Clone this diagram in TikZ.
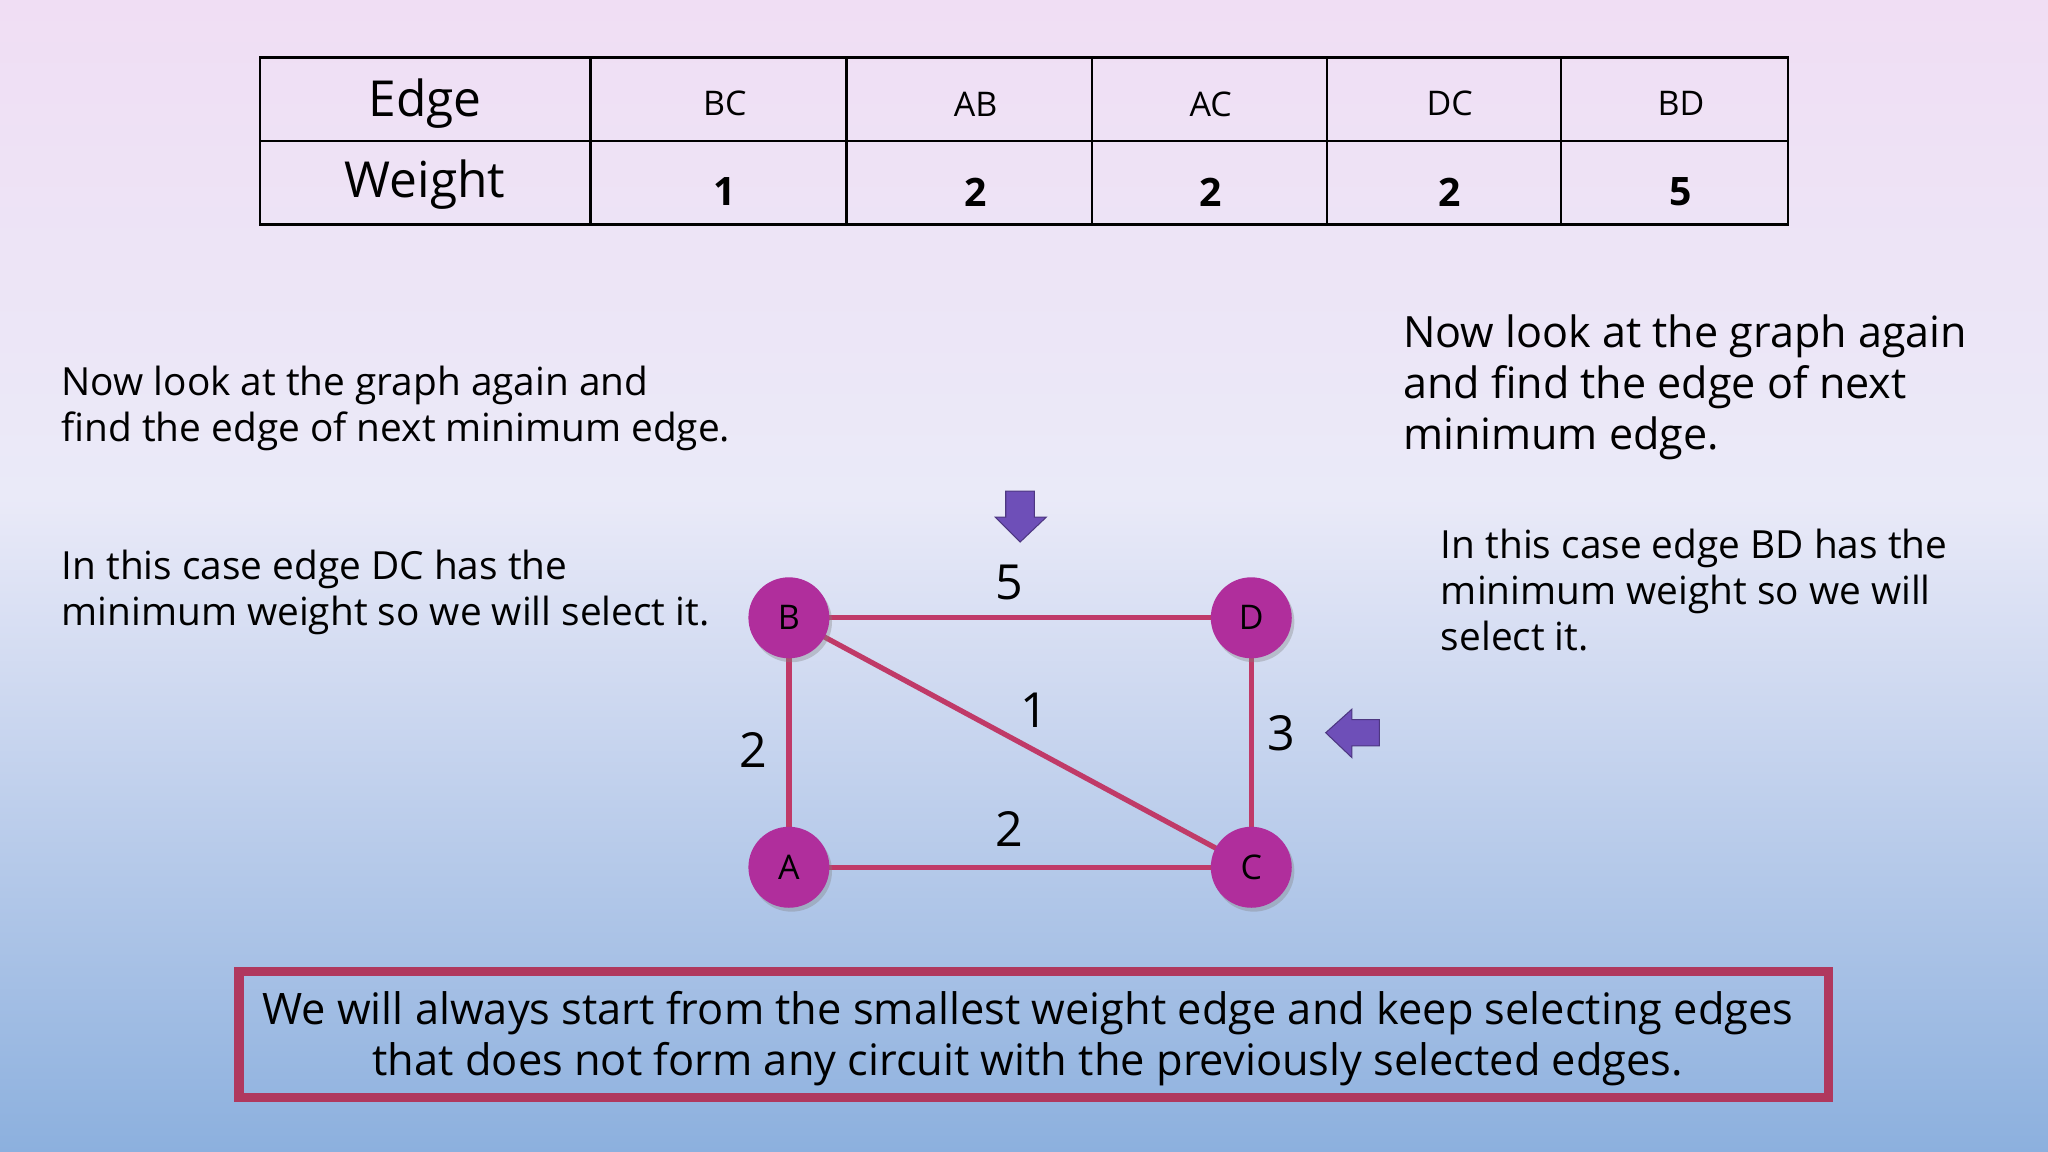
\documentclass[tikz,border=0pt]{standalone}
\usepackage{fontspec}
\setmainfont{Open Sans}
\usetikzlibrary{shadows}
\definecolor{edgec}{HTML}{C03A68}
\definecolor{nodec}{HTML}{B02E9C}
\definecolor{arrc}{HTML}{6E4FB8}
\definecolor{boxc}{HTML}{B0385E}
\definecolor{bgtop}{RGB}{240,222,244}
\definecolor{bgmid}{RGB}{234,234,248}
\definecolor{bgbot}{RGB}{140,176,222}
\tikzset{
 vert/.style={circle,fill=nodec,minimum size=62pt,inner sep=0pt,font=\fontsize{26}{30}\selectfont,drop shadow={opacity=0.35,shadow xshift=2pt,shadow yshift=-3pt}},
 gedge/.style={draw=edgec,line width=4pt},
 wlab/.style={font=\fontsize{37}{40}\selectfont},
 para/.style={align=left,anchor=north west,inner sep=0pt,font=\fontsize{29.7}{35}\selectfont},
 cell/.style={font=\fontsize{26}{30}\selectfont},
 wcell/.style={font=\fontsize{30}{34}\selectfont\bfseries},
}
\begin{document}
\begin{tikzpicture}[x=1pt,y=-1pt]
\useasboundingbox (0,0) rectangle (1568,882);
\shade[top color=bgtop, bottom color=bgmid] (0,0) rectangle (1568,380.5);
\shade[top color=bgmid, bottom color=bgbot] (0,380) rectangle (1568,882);
% table
\draw[line width=2pt] (199,44) rectangle (1369,172);
\draw[line width=2pt] (199,108) -- (1369,108);
\foreach \x in {452,648,836,1016,1195} \draw[line width=2pt] (\x,44) -- (\x,172);
\node[font=\fontsize{38}{40}\selectfont] (h1) at (325.5,79) {Edge};
\node[font=\fontsize{38}{40}\selectfont] (h2) at (325.5,141) {Weight};
\node[cell] (c1) at (555,79) {BC};
\node[cell] (c2) at (747,80) {AB};
\node[cell] (c3) at (927,80) {AC};
\node[cell] (c4) at (1110,79) {DC};
\node[cell] (c5) at (1287,79) {BD};
\node[wcell] (w1) at (555,147) {1};
\node[wcell] (w2) at (747,147) {2};
\node[wcell] (w3) at (927,147) {2};
\node[wcell] (w4) at (1110,147) {2};
\node[wcell] (w5) at (1287,147) {5};
% texts
\node[para] (t1) at (47,280) {Now look at the graph again and\\find the edge of next minimum edge.};
\node[para] (t2) at (47,421) {In this case edge DC has the\\minimum weight so we will select it.};
\node[para,font=\fontsize{33}{39}\selectfont] (t3) at (1074,241) {Now look at the graph again\\and find the edge of next\\minimum edge.};
\node[para] (t4) at (1103,405) {In this case edge BD has the\\minimum weight so we will\\select it.};
% graph
\coordinate (pB) at (604,473); \coordinate (pD) at (958,473);
\coordinate (pA) at (604,664); \coordinate (pC) at (958,664);
\draw[gedge] (pB) -- (pD);
\draw[gedge] (pB) -- (pA);
\draw[gedge] (pB) -- (pC);
\draw[gedge] (pA) -- (pC);
\draw[gedge] (pD) -- (pC);
\node[vert] (B) at (pB) {B};
\node[vert] (D) at (pD) {D};
\node[vert] (A) at (pA) {A};
\node[vert] (C) at (pC) {C};
\node[wlab] (l5) at (773,446) {5};
\node[wlab] (l1) at (792,544) {1};
\node[wlab] (l2a) at (577,574) {2};
\node[wlab] (l3) at (981,561) {3};
\node[wlab] (l2b) at (773,635) {2};
% arrows
\filldraw[fill=arrc,draw=arrc!70!black,line width=0.8pt] (770,376) -- (792,376) -- (792,396) -- (801,396) -- (781,415) -- (762,396) -- (770,396) -- cycle;
\filldraw[fill=arrc,draw=arrc!70!black,line width=0.8pt] (1056,551) -- (1035,551) -- (1035,543) -- (1015,561) -- (1035,580) -- (1035,571) -- (1056,571) -- cycle;
% bottom box
\draw[boxc,line width=7pt] (183,744) rectangle (1400,840);
\node[align=center,font=\fontsize{33.2}{39}\selectfont] (note) at (787,795) {We will always start from the smallest weight edge and keep selecting edges\\that does not form any circuit with the previously selected edges.};
\end{tikzpicture}
\end{document}
